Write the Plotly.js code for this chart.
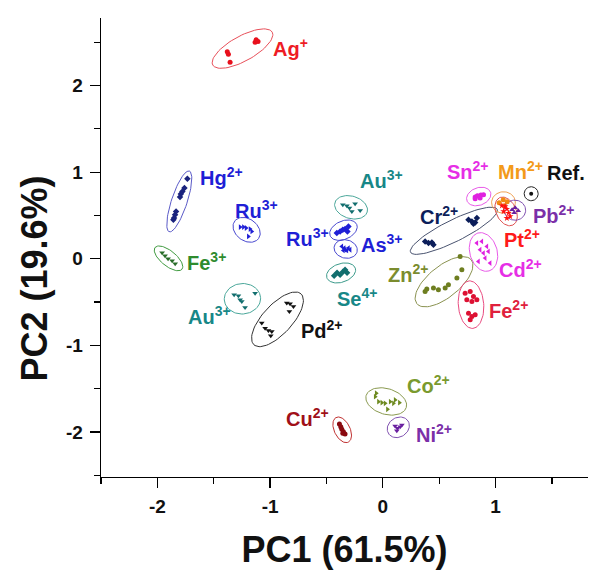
<!DOCTYPE html>
<html>
<head>
<meta charset="utf-8">
<script src="https://cdn.plot.ly/plotly-3.0.1.min.js"></script>
<style>html,body{margin:0;padding:0;background:#fff}#chart{width:590px;height:570px}</style>
</head>
<body>
<div id="chart"></div>
<script>
// ---------- data (PC1, PC2 scores) ----------
const groupKeys = ['Ag','Hg','Fe3','RuA','RuB','As','AuA','Se','AuB','Pd','Cr','Zn','Cd','Fe2','Sn','Mn','Pt','Pb','Ref','Co','Ni','Cu'];
const groupLabels = ['Ag<sup>+</sup>','Hg<sup>2+</sup>','Fe<sup>3+</sup>','Ru<sup>3+</sup>','Ru<sup>3+</sup>','As<sup>3+</sup>','Au<sup>3+</sup>','Se<sup>4+</sup>','Au<sup>3+</sup>','Pd<sup>2+</sup>','Cr<sup>2+</sup>','Zn<sup>2+</sup>','Cd<sup>2+</sup>','Fe<sup>2+</sup>','Sn<sup>2+</sup>','Mn<sup>2+</sup>','Pt<sup>2+</sup>','Pb<sup>2+</sup>','Ref.','Co<sup>2+</sup>','Ni<sup>2+</sup>','Cu<sup>2+</sup>'];

const agX = [-1.38,-1.37,-1.355,-1.124,-1.133,-1.107];
const agY = [2.39,2.36,2.27,2.53,2.50,2.51];
const hgX = [-1.734,-1.760,-1.778,-1.792,-1.799,-1.834,-1.843,-1.852,-1.858];
const hgY = [0.925,0.817,0.778,0.748,0.713,0.547,0.509,0.471,0.451];
const fe3X = [-1.958,-1.932,-1.905,-1.869,-1.842];
const fe3Y = [0.069,0.035,0.0,-0.023,-0.058];
const ruAX = [-1.266,-1.237,-1.213,-1.178,-1.163,-1.193];
const ruAY = [0.366,0.366,0.355,0.343,0.316,0.258];
const ruBX = [-0.408,-0.379,-0.355,-0.335,-0.305,-0.314];
const ruBY = [0.297,0.316,0.335,0.343,0.373,0.316];
const asX = [-0.364,-0.343,-0.335,-0.319,-0.290,-0.350,-0.305];
const asY = [0.142,0.124,0.104,0.096,0.104,0.096,0.124];
const auAX = [-0.355,-0.319,-0.275,-0.246,-0.201,-0.296];
const auAY = [0.624,0.613,0.547,0.636,0.558,0.586];
const seX = [-0.432,-0.406,-0.379,-0.353,-0.335,-0.317];
const seY = [-0.197,-0.162,-0.185,-0.150,-0.127,-0.162];
const auBX = [-1.319,-1.281,-1.266,-1.222,-1.133,-1.251];
const auBY = [-0.416,-0.428,-0.474,-0.563,-0.397,-0.494];
const pdX = [-0.852,-0.823,-0.793,-0.829,-1.074,-1.044,-1.015,-0.994,-0.985];
const pdY = [-0.512,-0.520,-0.551,-0.609,-0.743,-0.801,-0.829,-0.890,-0.840];
const crX = [0.375,0.405,0.435,0.449,0.760,0.790,0.804,0.834,0.819];
const crY = [0.200,0.181,0.188,0.162,0.451,0.431,0.405,0.471,0.420];
const znX = [0.686,0.701,0.657,0.582,0.553,0.493,0.449,0.390,0.375];
const znY = [0.027,-0.127,-0.223,-0.301,-0.339,-0.358,-0.339,-0.350,-0.378];
const cdX = [0.834,0.878,0.923,0.863,0.893,0.937,0.848,0.952,0.908];
const cdY = [0.181,0.200,0.142,0.104,0.066,0.084,-0.031,-0.050,0.008];
const fe2X = [0.730,0.775,0.804,0.745,0.790,0.834,0.760,0.790,0.819,0.775];
const fe2Y = [-0.397,-0.378,-0.436,-0.474,-0.493,-0.474,-0.628,-0.667,-0.647,-0.705];
const snX = [0.819,0.839,0.870,0.893,0.863,0.819];
const snY = [0.713,0.728,0.736,0.740,0.702,0.694];
const mnX = [1.032,1.068,1.103,1.077];
const mnY = [0.647,0.682,0.659,0.613];
const ptX = [1.056,1.085,1.100,1.071,1.115,1.130,1.100];
const ptY = [0.613,0.605,0.575,0.547,0.528,0.489,0.470];
const pbX = [1.147,1.174,1.201,1.165];
const pbY = [0.566,0.590,0.555,0.532];
const refX = [1.316];
const refY = [0.751];
const coX = [-0.059,-0.068,-0.039,-0.009,0.020,0.041,0.065,0.109,0.147,0.094];
const coY = [-1.553,-1.592,-1.650,-1.662,-1.669,-1.738,-1.650,-1.630,-1.662,-1.669];
const niX = [0.109,0.130,0.124,0.154,0.169];
const niY = [-1.931,-1.957,-1.985,-1.939,-1.919];
const cuX = [-0.385,-0.373,-0.364,-0.350,-0.355,-0.335];
const cuY = [-1.908,-1.939,-1.969,-1.997,-2.015,-2.023];

const xTickVals = [-2,-1,0,1];
const yTickVals = [-2,-1,0,1,2];
const xTitle = 'PC1 (61.5%)';
const yTitle = 'PC2 (19.6%)';

const dataX = {Ag:agX,Hg:hgX,Fe3:fe3X,RuA:ruAX,RuB:ruBX,As:asX,AuA:auAX,Se:seX,AuB:auBX,Pd:pdX,Cr:crX,Zn:znX,Cd:cdX,Fe2:fe2X,Sn:snX,Mn:mnX,Pt:ptX,Pb:pbX,Ref:refX,Co:coX,Ni:niX,Cu:cuX};
const dataY = {Ag:agY,Hg:hgY,Fe3:fe3Y,RuA:ruAY,RuB:ruBY,As:asY,AuA:auAY,Se:seY,AuB:auBY,Pd:pdY,Cr:crY,Zn:znY,Cd:cdY,Fe2:fe2Y,Sn:snY,Mn:mnY,Pt:ptY,Pb:pbY,Ref:refY,Co:coY,Ni:niY,Cu:cuY};

// ---------- styles ----------
const style = {
  Ag:{label:'#ee1c25', pt:'#e8101c', ell:'#e8505a', sym:'circle'},
  Hg:{label:'#1f1fd6', pt:'#1a237e', ell:'#5a5ac8', sym:'diamond'},
  Fe3:{label:'#2e8b2e', pt:'#2a6e2a', ell:'#3f9a3f', sym:'triangle-down'},
  RuA:{label:'#1f1fd6', pt:'#1f1fd6', ell:'#4848d0', sym:'triangle-right'},
  RuB:{label:'#1f1fd6', pt:'#1f1fd6', ell:'#4848d0', sym:'diamond'},
  As:{label:'#1f1fd6', pt:'#1f1fd6', ell:'#4848d0', sym:'triangle-left'},
  AuA:{label:'#178787', pt:'#126e6e', ell:'#4aa79a', sym:'triangle-down'},
  Se:{label:'#178787', pt:'#126e6e', ell:'#3a9a8a', sym:'diamond'},
  AuB:{label:'#178787', pt:'#126e6e', ell:'#4aa79a', sym:'triangle-down'},
  Pd:{label:'#111111', pt:'#111111', ell:'#333333', sym:'triangle-down'},
  Cr:{label:'#0c1e5a', pt:'#0c1e5a', ell:'#4a5470', sym:'diamond'},
  Zn:{label:'#7b8c2e', pt:'#6e7e20', ell:'#8a9250', sym:'circle'},
  Cd:{label:'#e62ee6', pt:'#e020e0', ell:'#e85ae8', sym:'triangle-left'},
  Fe2:{label:'#e0203c', pt:'#dd1133', ell:'#e94b80', sym:'circle'},
  Sn:{label:'#e62ee6', pt:'#e020e0', ell:'#e85ae8', sym:'circle'},
  Mn:{label:'#f39a1a', pt:'#f08a10', ell:'#f0a050', sym:'circle'},
  Pt:{label:'#ff1a1a', pt:'#ff1010', ell:'#e05050', sym:'star'},
  Pb:{label:'#7b2fa8', pt:'#6a1fa0', ell:'#8050b0', sym:'triangle-up'},
  Ref:{label:'#111111', pt:'#111111', ell:'#222222', sym:'circle'},
  Co:{label:'#7a9a2e', pt:'#6e8a20', ell:'#8a9a50', sym:'triangle-right'},
  Ni:{label:'#7b2fa8', pt:'#6a1fa0', ell:'#8050b0', sym:'triangle-down'},
  Cu:{label:'#a01018', pt:'#8a0a10', ell:'#c03030', sym:'circle'}
};
// label anchor positions (data coordinates of label centre)
const labelAt = {
  Ag:[-0.823,2.44], Hg:[-1.433,0.948], Fe3:[-1.567,-0.035], RuA:[-1.124,0.566], RuB:[-0.672,0.243],
  As:[-0.006,0.173], AuA:[-0.015,0.913], Se:[-0.228,-0.451], AuB:[-1.540,-0.659], Pd:[-0.539,-0.821],
  Cr:[0.500,0.497], Zn:[0.224,-0.173], Cd:[1.218,-0.116], Fe2:[1.112,-0.590], Sn:[0.757,1.017],
  Mn:[1.222,1.017], Pt:[1.235,0.232], Pb:[1.515,0.515], Ref:[1.622,0.994], Co:[0.402,-1.457],
  Ni:[0.455,-2.012], Cu:[-0.672,-1.838]
};

const W = 590, H = 570;
const M = {l:101, r:2, t:18, b:93};
const xr = [-2.5, 1.82], yr = [-2.52, 2.78];
const FONT = 'Liberation Sans, Arial, sans-serif';

// confidence-style ellipse computed from the cluster's own points (in screen-scaled space)
function clusterEllipse(xs, ys) {
  const sx = (W - M.l - M.r) / (xr[1] - xr[0]);
  const sy = (H - M.t - M.b) / (yr[1] - yr[0]);
  const px = xs.map(v => v * sx), py = ys.map(v => v * sy);
  const n = px.length;
  const mx = px.reduce((a,b)=>a+b,0)/n, my = py.reduce((a,b)=>a+b,0)/n;
  let cxx=0, cyy=0, cxy=0;
  for (let i=0;i<n;i++){ const dx=px[i]-mx, dy=py[i]-my; cxx+=dx*dx/n; cyy+=dy*dy/n; cxy+=dx*dy/n; }
  const tr = cxx+cyy, det = cxx*cyy-cxy*cxy;
  const disc = Math.sqrt(Math.max(0, tr*tr/4-det));
  const l1 = tr/2+disc, l2 = Math.max(0, tr/2-disc);
  const th = 0.5*Math.atan2(2*cxy, cxx-cyy);
  const K = 1.7, PAD = 7;
  const a = K*Math.sqrt(l1)+PAD, b = K*Math.sqrt(l2)+PAD;
  const ex=[], ey=[];
  for (let k=0;k<=72;k++){
    const t = 2*Math.PI*k/72;
    const u = a*Math.cos(t), v = b*Math.sin(t);
    ex.push((mx + u*Math.cos(th) - v*Math.sin(th))/sx);
    ey.push((my + u*Math.sin(th) + v*Math.cos(th))/sy);
  }
  return {x:ex, y:ey};
}

const traces = [];
const annotations = [];
groupKeys.forEach((k) => {
  const e = clusterEllipse(dataX[k], dataY[k]);
  traces.push({x:e.x, y:e.y, mode:'lines', type:'scatter', line:{color:style[k].ell, width:1}, hoverinfo:'skip', showlegend:false});
});
groupKeys.forEach((k, i) => {
  traces.push({x:dataX[k], y:dataY[k], mode:'markers', type:'scatter', name:k,
    marker:{symbol:style[k].sym, size:k==='Ref'?4:5, color:style[k].pt, line:{width:0}}, showlegend:false});
  annotations.push({x:labelAt[k][0], y:labelAt[k][1], xref:'x', yref:'y', showarrow:false,
    text:'<b>'+groupLabels[i]+'</b>', font:{family:FONT, size:20, color:style[k].label},
    xanchor:'center', yanchor:'middle'});
});
// y-axis title (placed like the reference, slightly below the plot's middle)
annotations.push({xref:'paper', yref:'paper', x:-0.136, y:0.432, showarrow:false, textangle:-90,
  text:'<b>'+yTitle+'</b>', font:{family:FONT, size:36, color:'#111'}, xanchor:'center', yanchor:'middle'});

const axisCommon = {
  showline:true, linecolor:'#000', linewidth:1.3, mirror:false, showgrid:false, zeroline:false,
  ticks:'outside', ticklen:10, tickwidth:1.3, tickcolor:'#000',
  tickfont:{family:FONT, size:19, color:'#111', weight:'bold'},
  minor:{dtick:0.5, ticks:'outside', ticklen:6, tickwidth:1.2, tickcolor:'#000', showgrid:false},
  fixedrange:true
};

const layout = {
  width:W, height:H, margin:M, paper_bgcolor:'#fff', plot_bgcolor:'#fff', showlegend:false,
  xaxis:Object.assign({}, axisCommon, {range:xr, tickvals:xTickVals, ticktext:xTickVals.map(String), ticklabelstandoff:2,
    title:{text:'<b>'+xTitle+'</b>', font:{family:FONT, size:36, color:'#111'}, standoff:20}}),
  yaxis:Object.assign({}, axisCommon, {range:yr, tickvals:yTickVals, ticktext:yTickVals.map(String), ticklabelstandoff:3}),
  annotations:annotations
};

Plotly.newPlot('chart', traces, layout, {displayModeBar:false, staticPlot:true});
</script>
</body>
</html>
